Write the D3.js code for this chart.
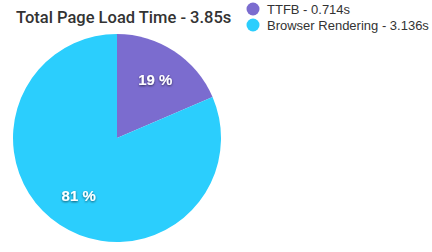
<!DOCTYPE html>
<html>
<head>
<meta charset="utf-8">
<script src="https://cdn.jsdelivr.net/npm/d3@7"></script>
<style>
  body { margin: 0; background: #fff; }
  text { font-family: "Liberation Sans", Arial, Helvetica, sans-serif; }
</style>
</head>
<body>
<div id="chart"></div>
<script>
var names = ["TTFB", "Browser Rendering"];
var values = [0.714, 3.136];
var colors = ["#7b6ccf", "#2bcefd"];
var total = 3.85;

var width = 432, height = 252;
var cx = 117, cy = 138, radius = 104;

var svg = d3.select("#chart")
    .append("svg")
    .attr("width", width)
    .attr("height", height);

// text shadow for slice labels
var defs = svg.append("defs");
var filter = defs.append("filter").attr("id", "shadow")
    .attr("x", "-20%").attr("y", "-20%").attr("width", "140%").attr("height", "160%");
filter.append("feDropShadow")
    .attr("dx", 0).attr("dy", 1).attr("stdDeviation", 1)
    .attr("flood-color", "#000").attr("flood-opacity", 0.6);

// title
svg.append("text")
    .attr("x", 16)
    .attr("y", 23)
    .style("font-family", "Roboto, 'Liberation Sans', sans-serif")
    .style("font-size", "16.5px")
    .style("font-weight", "500")
    .style("fill", "#333")
    .text("Total Page Load Time - " + total + "s");

var pie = d3.pie().sort(null).value(function (d) { return d; });
var arcs = pie(values);

var g = svg.append("g").attr("transform", "translate(" + cx + "," + cy + ")");

var arc = d3.arc().innerRadius(0).outerRadius(radius);
var labelArc = d3.arc().innerRadius(radius * 0.67).outerRadius(radius * 0.67);

g.selectAll("path")
    .data(arcs)
    .enter()
    .append("path")
    .attr("d", arc)
    .style("fill", function (d, i) { return colors[i]; });

g.selectAll("text.pct")
    .data(arcs)
    .enter()
    .append("text")
    .attr("class", "pct")
    .attr("transform", function (d) { return "translate(" + labelArc.centroid(d) + ")"; })
    .attr("dy", "0.35em")
    .style("text-anchor", "middle")
    .style("font-size", "15px")
    .style("font-weight", "bold")
    .style("fill", "#fff")
    .attr("filter", "url(#shadow)")
    .text(function (d) { return Math.round(d.value / total * 100) + " %"; });

// legend
var legend = svg.append("g").selectAll("g")
    .data(names)
    .enter()
    .append("g")
    .attr("transform", function (d, i) { return "translate(253," + (9 + i * 16) + ")"; });

legend.append("circle")
    .attr("r", 6.5)
    .style("fill", function (d, i) { return colors[i]; });

legend.append("text")
    .attr("x", 14)
    .attr("dy", "0.35em")
    .style("font-size", "13px")
    .style("fill", "#333")
    .text(function (d, i) { return d + " - " + values[i] + "s"; });
</script>
</body>
</html>
